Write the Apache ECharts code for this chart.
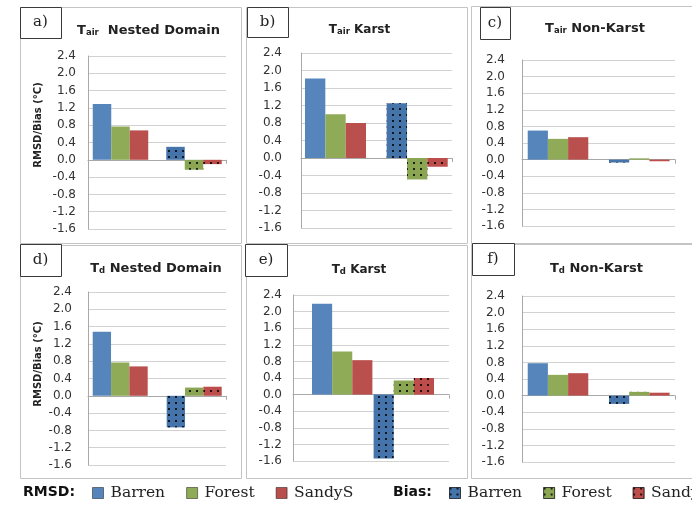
<!DOCTYPE html>
<html>
<head>
<meta charset="utf-8">
<script src="https://cdn.jsdelivr.net/npm/echarts@6/dist/echarts.min.js"></script>
<style>
  html, body { margin: 0; padding: 0; background: #fff; }
  #chart { width: 692px; height: 505px; }
</style>
</head>
<body>
<div id="chart"></div>
<script>
// Categories on each panel's x axis
const metrics = ['RMSD', 'Bias'];

// Panels a-f: variable subscript and region name
const panelLetters = ['a)', 'b)', 'c)', 'd)', 'e)', 'f)'];
const panelSubscripts = ['air', 'air', 'air', 'd', 'd', 'd'];
const panelRegions = ['Nested Domain', 'Karst', 'Non-Karst', 'Nested Domain', 'Karst', 'Non-Karst'];

// Values per panel (a..f), in °C
const barrenRMSD = [1.29, 1.82, 0.70, 1.48, 2.19, 0.78];
const forestRMSD = [0.77, 1.00, 0.50, 0.77, 1.04, 0.50];
const sandyRMSD  = [0.68, 0.80, 0.54, 0.68, 0.83, 0.54];
const barrenBias = [0.30, 1.25, -0.07, -0.73, -1.54, -0.20];
const forestBias = [-0.23, -0.49, 0.03, 0.19, 0.34, 0.09];
const sandyBias  = [-0.10, -0.20, -0.04, 0.21, 0.40, 0.07];

// Value axis ticks
const yMin = -1.6, yMax = 2.4, yStep = 0.4;
const yAxisTitle = 'RMSD/Bias (°C)';

// Legend labels
const rmsdNames = ['Barren', 'Forest', 'SandyS'];
const biasNames = ['Barren', 'Forest', 'Sandy'];

// ---- layout (pixels) ----
const layout = [
  { frame: [20, 7, 221, 236],   box: [20, 7, 41, 31],    plot: [88, 56, 138, 173],  barC: 120.5, barS: 73.5, gap: '24.5%', title: [148.5, 29], size: 13, margin: 12 },
  { frame: [246, 7, 221, 236],  box: [247, 7, 41, 30],   plot: [301, 53, 151, 175], barC: 335.5, barS: 81.7, gap: '25.3%', title: [359.5, 28], size: 12, margin: 19 },
  { frame: [471, 6, 225, 237],  box: [480, 7, 30, 32],   plot: [522, 60, 153, 166], barC: 558,   barS: 81.3, gap: '25.5%', title: [595, 27],   size: 13, margin: 17 },
  { frame: [20, 245, 221, 233], box: [20, 244, 41, 32],  plot: [88, 292, 138, 173], barC: 120.2, barS: 74,   gap: '25.7%', title: [156, 267],  size: 13, margin: 16 },
  { frame: [246, 245, 221, 233],box: [245, 244, 42, 32], plot: [293, 295, 156, 166],barC: 342.2, barS: 61.6, gap: '2%',    title: [359, 268],  size: 12, margin: 11 },
  { frame: [471, 244, 225, 234],box: [472, 243, 42, 32], plot: [522, 296, 153, 166],barC: 558,   barS: 81.3, gap: '25.5%', title: [596.5, 267],size: 13, margin: 17 }
];

const rmsdColors = ['#5585bb', '#8fab58', '#b9504e'];
const biasColors = ['#4574ab', '#8aa652', '#bc4d4a'];
const dots = {
  symbol: 'rect',
  symbolSize: 1,
  color: 'rgba(0,0,0,0.8)',
  dashArrayX: [1.5, 4.5],
  dashArrayY: [1.5, 3.3],
  rotation: 0
};

const rmsdSets = [barrenRMSD, forestRMSD, sandyRMSD];
const biasSets = [barrenBias, forestBias, sandyBias];
const axisGray = '#a8a8a8';

const grid = [], xAxis = [], yAxis = [], series = [], graphic = [];

layout.forEach((p, i) => {
  const fi = 2 * i, bi = 2 * i + 1;
  // frame grid: axes and gridlines
  grid.push({ left: p.plot[0], top: p.plot[1], width: p.plot[2], height: p.plot[3] });
  // bar grid: where the grouped bars sit
  grid.push({ left: p.barC - p.barS / 2, top: p.plot[1], width: 2 * p.barS, height: p.plot[3] });

  xAxis.push({
    gridIndex: fi, type: 'value', min: 0, max: 1, interval: 1,
    axisLine: { onZero: true, lineStyle: { color: axisGray, width: 1 } },
    axisTick: { show: true, length: 4, lineStyle: { color: axisGray } },
    axisLabel: { show: false }, splitLine: { show: false }
  });
  yAxis.push({
    gridIndex: fi, type: 'value', min: yMin, max: yMax, interval: yStep,
    axisLine: { show: true, lineStyle: { color: axisGray, width: 1 } },
    axisTick: { show: false },
    axisLabel: {
      margin: p.margin, color: '#333', fontFamily: 'DejaVu Sans', fontSize: 12,
      formatter: v => (Math.abs(v) < 1e-9 ? 0 : v).toFixed(1)
    },
    splitLine: { lineStyle: { color: '#d2d2d2', width: 1 } }
  });
  xAxis.push({ gridIndex: bi, type: 'category', data: metrics, show: false });
  yAxis.push({ gridIndex: bi, type: 'value', min: yMin, max: yMax, show: false });

  for (let c = 0; c < 3; c++) {
    const common = {
      type: 'bar', xAxisIndex: bi, yAxisIndex: bi, stack: 'p' + i + 'c' + c,
      barGap: '0%', barCategoryGap: p.gap
    };
    series.push(Object.assign({}, common, {
      name: 'RMSD|' + rmsdNames[c],
      data: [rmsdSets[c][i], '-'],
      itemStyle: { color: rmsdColors[c] }
    }));
    series.push(Object.assign({}, common, {
      name: 'Bias|' + biasNames[c],
      data: ['-', biasSets[c][i]],
      itemStyle: { color: biasColors[c], decal: dots }
    }));
  }

  // panel frame
  graphic.push({
    type: 'rect', silent: true, z: -10,
    shape: { x: p.frame[0] + 0.5, y: p.frame[1] + 0.5, width: p.frame[2], height: p.frame[3] },
    style: { fill: 'none', stroke: '#c4c4c4', lineWidth: 1 }
  });
  // panel letter box
  graphic.push({
    type: 'rect', silent: true, z: 10,
    shape: { x: p.box[0] + 0.5, y: p.box[1] + 0.5, width: p.box[2], height: p.box[3] },
    style: { fill: '#fff', stroke: '#3a3a3a', lineWidth: 1 }
  });
  graphic.push({
    type: 'text', silent: true, z: 11,
    x: p.box[0] + p.box[2] / 2, y: p.box[1] + p.box[3] / 2,
    style: {
      text: panelLetters[i], fill: '#222', fontFamily: 'DejaVu Serif', fontSize: 15,
      align: 'center', verticalAlign: 'middle', textAlign: 'center', textVerticalAlign: 'middle'
    }
  });
  // panel title: T with small subscript, then region name
  const lh = p.size + 4;
  graphic.push({
    type: 'text', silent: true, z: 11,
    x: p.title[0], y: p.title[1],
    style: {
      text: '{t|T}{s|' + panelSubscripts[i] + '}{m| ' + (i === 0 ? ' ' : '') + panelRegions[i] + '}',
      align: 'center', verticalAlign: 'middle', textAlign: 'center', textVerticalAlign: 'middle',
      rich: {
        t: { fontFamily: 'DejaVu Sans', fontWeight: 'bold', fontSize: p.size, fill: '#222', color: '#222', lineHeight: lh, verticalAlign: 'bottom' },
        s: { fontFamily: 'DejaVu Sans', fontWeight: 'bold', fontSize: 8.5, fill: '#222', color: '#222', lineHeight: lh - 2, verticalAlign: 'bottom' },
        m: { fontFamily: 'DejaVu Sans', fontWeight: 'bold', fontSize: p.size, fill: '#222', color: '#222', lineHeight: lh, verticalAlign: 'bottom' }
      }
    }
  });
});

// y-axis titles on the left column
[[38, 125], [38, 364]].forEach(pos => {
  graphic.push({
    type: 'text', silent: true, z: 11, x: pos[0], y: pos[1], rotation: Math.PI / 2,
    style: {
      text: yAxisTitle, fill: '#222', fontFamily: 'DejaVu Sans', fontWeight: 'bold', fontSize: 10,
      align: 'center', verticalAlign: 'middle', textAlign: 'center', textVerticalAlign: 'middle'
    }
  });
});

// legend headings
[['RMSD:', 23], ['Bias:', 393]].forEach(h => {
  graphic.push({
    type: 'text', silent: true, z: 11, x: h[1], y: 492,
    style: {
      text: h[0], fill: '#111', fontFamily: 'DejaVu Sans', fontWeight: 'bold', fontSize: 14,
      align: 'left', verticalAlign: 'middle', textAlign: 'left', textVerticalAlign: 'middle'
    }
  });
});

const legendCommon = {
  top: 485, padding: 0, width: 600, itemWidth: 11, itemHeight: 11, itemGap: 21, icon: 'rect',
  selectedMode: false,
  itemStyle: { borderColor: 'rgba(0,0,0,0.45)', borderWidth: 1 },
  formatter: name => name.split('|')[1],
  textStyle: { fontFamily: 'DejaVu Serif', fontSize: 15.5, color: '#222', padding: [0, 0, 0, 2] }
};

const option = {
  animation: false,
  backgroundColor: '#fff',
  grid, xAxis, yAxis, series, graphic,
  legend: [
    Object.assign({}, legendCommon, { left: 92, data: rmsdNames.map(n => 'RMSD|' + n) }),
    Object.assign({}, legendCommon, { left: 449, data: biasNames.map(n => 'Bias|' + n) })
  ]
};

const chart = echarts.init(document.getElementById('chart'), null, { renderer: 'canvas' });
chart.setOption(option);
</script>
</body>
</html>
